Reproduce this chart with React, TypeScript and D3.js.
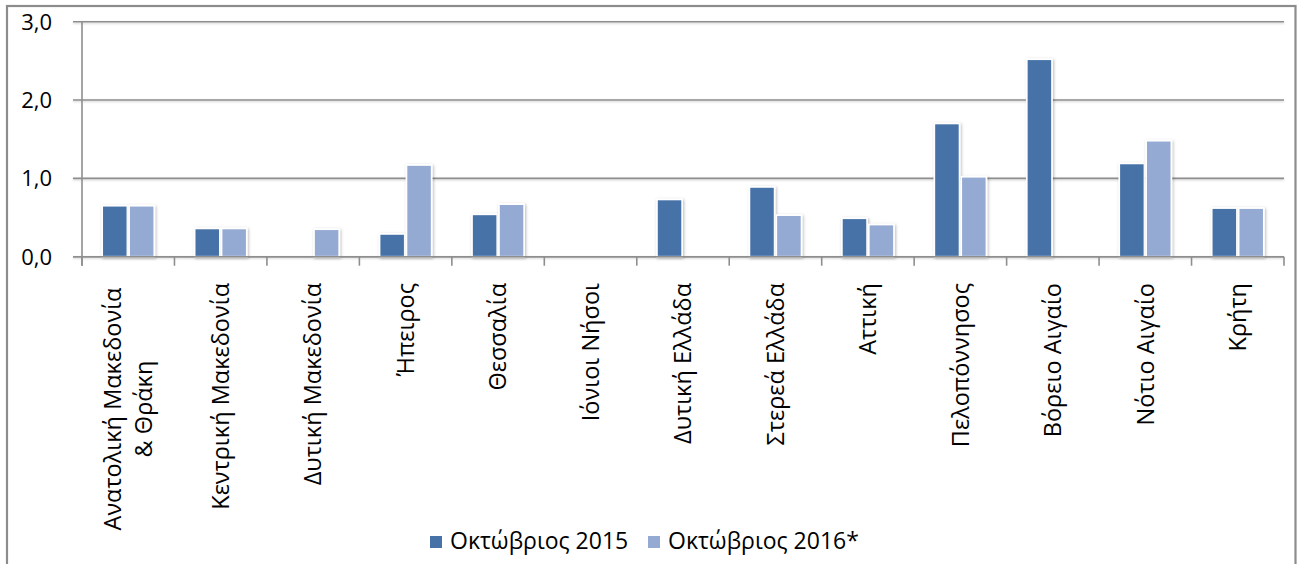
import React from "react";
import * as d3 from "d3";

const categories: string[][] = [
  ["Ανατολική Μακεδονία", "& Θράκη"],
  ["Κεντρική Μακεδονία"],
  ["Δυτική Μακεδονία"],
  ["Ήπειρος"],
  ["Θεσσαλία"],
  ["Ιόνιοι Νήσοι"],
  ["Δυτική Ελλάδα"],
  ["Στερεά Ελλάδα"],
  ["Αττική"],
  ["Πελοπόννησος"],
  ["Βόρειο Αιγαίο"],
  ["Νότιο Αιγαίο"],
  ["Κρήτη"],
];
const series2015 = [0.64, 0.35, 0, 0.28, 0.53, 0, 0.72, 0.88, 0.48, 1.69, 2.51, 1.18, 0.61];
const series2016 = [0.64, 0.35, 0.34, 1.16, 0.66, 0, 0, 0.52, 0.4, 1.01, 0, 1.47, 0.61];
const seriesNames = ["Οκτώβριος 2015", "Οκτώβριος 2016*"];
const yTicks = [0, 1, 2, 3];

const W = 1301;
const H = 564;
const FONT = "'Open Sans', 'Noto Sans', sans-serif";
const colors = ["#4672A8", "#94AAD2"];
const gridColor = "#8E8E8E";

export default function App() {
  const left = 82;
  const right = 1284;
  const top = 21.7;
  const bottom = 256.7;
  const x = d3
    .scaleBand<number>()
    .domain(d3.range(categories.length))
    .range([left, right])
    .paddingInner(0)
    .paddingOuter(0);
  const y = d3.scaleLinear().domain([0, 3]).range([bottom, top]);
  const bw = x.bandwidth();
  const groupW = bw * 0.582;
  const inner = d3
    .scaleBand<number>()
    .domain([0, 1])
    .range([(bw - groupW) / 2, (bw + groupW) / 2]);
  const fmt = (v: number) => d3.format(".1f")(v).replace(".", ",");
  const data = [series2015, series2016];
  const sw = 1.7;
  const labelTop = 283;
  const lineGap = 31;
  const catFont = 23.5;

  return (
    <svg
      width={W}
      height={H}
      style={{ position: "absolute", left: 0, top: 0, background: "#fff" }}
      fontFamily={FONT}
    >
      <defs>
        <filter id="shadow" x="-30%" y="-30%" width="160%" height="160%">
          <feDropShadow dx="1" dy="1" stdDeviation="1.6" floodColor="#000" floodOpacity="0.28" />
        </filter>
        <filter id="lineshadow" x="-5%" y="-200%" width="110%" height="500%">
          <feDropShadow dx="0" dy="1" stdDeviation="0.8" floodColor="#000" floodOpacity="0.2" />
        </filter>
      </defs>
      <rect x={7} y={6} width={1288.5} height={570} fill="#fff" stroke="#8C8C8C" strokeWidth={2.2} />

      {/* gridlines */}
      <g filter="url(#lineshadow)">
        {yTicks.map((t) => (
          <line key={t} x1={left - 9} x2={right} y1={y(t)} y2={y(t)} stroke={gridColor} strokeWidth={1.6} />
        ))}
      </g>
      {/* y axis */}
      <line x1={left} x2={left} y1={top} y2={bottom + 9} stroke={gridColor} strokeWidth={1.6} />
      {/* x ticks */}
      {d3.range(categories.length + 1).map((i) => {
        const xx = i < categories.length ? (x(i) as number) : right;
        return <line key={i} x1={xx} x2={xx} y1={bottom} y2={bottom + 9} stroke={gridColor} strokeWidth={1.6} />;
      })}
      {/* y tick labels */}
      {yTicks.map((t) => (
        <text key={t} x={52} y={y(t)} dy="0.36em" textAnchor="end" fontSize={22} fill="#000">
          {fmt(t)}
        </text>
      ))}

      {/* bars */}
      {data.map((s, si) => (
        <g key={si}>
          {s.map((v, i) =>
            v > 0 ? (
              <rect
                key={i}
                x={(x(i) as number) + (inner(si) as number) + sw / 2}
                width={inner.bandwidth() - sw}
                y={y(v) - sw / 2}
                height={y(0) - y(v) + sw / 2}
                fill={colors[si]}
                stroke="#fff"
                strokeWidth={sw}
                filter="url(#shadow)"
              />
            ) : null
          )}
        </g>
      ))}
      {/* redraw zero axis over bar bottoms */}
      <line x1={left - 9} x2={right} y1={bottom} y2={bottom} stroke={gridColor} strokeWidth={1.6} />

      {/* category labels */}
      {categories.map((lines, i) => {
        const cx = (x(i) as number) + bw / 2;
        const n = lines.length;
        return (
          <g key={i}>
            {lines.map((ln, li) => {
              const off = (li - (n - 1) / 2) * lineGap;
              const lx = cx + off;
              if (n === 1) {
                return (
                  <text
                    key={li}
                    transform={`translate(${lx},${labelTop}) rotate(-90)`}
                    textAnchor="end"
                    dy="0.35em"
                    fontSize={catFont}
                    fill="#000"
                  >
                    {ln}
                  </text>
                );
              }
              return (
                <text
                  key={li}
                  transform={`translate(${lx},${labelTop + 126}) rotate(-90)`}
                  textAnchor="middle"
                  dy="0.35em"
                  fontSize={catFont}
                  fill="#000"
                >
                  {ln}
                </text>
              );
            })}
          </g>
        );
      })}

      {/* legend */}
      {seriesNames.map((name, i) => {
        const lx = [430, 648][i];
        return (
          <g key={i}>
            <rect x={lx} y={536} width={12} height={12} fill={colors[i]} />
            <text x={lx + 20} y={549} fontSize={23} fill="#000">
              {name}
            </text>
          </g>
        );
      })}
    </svg>
  );
}
